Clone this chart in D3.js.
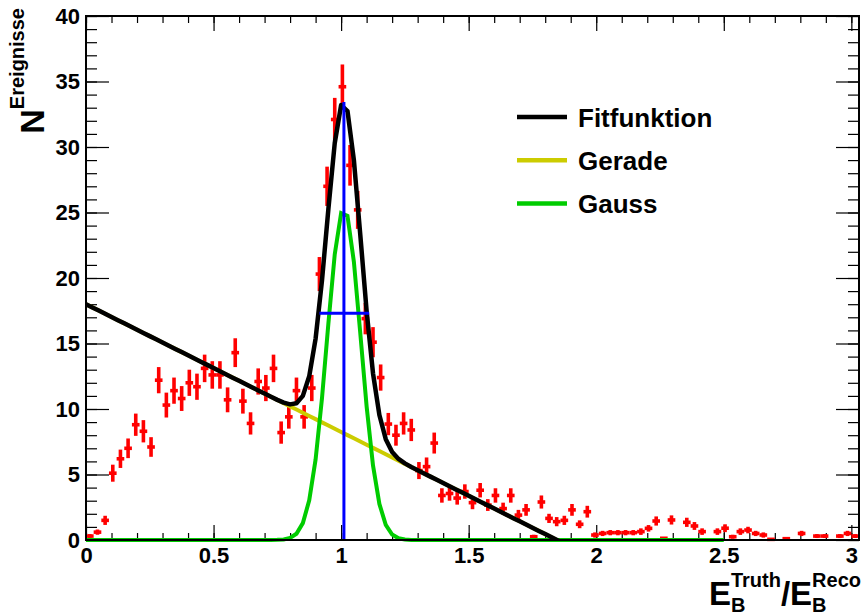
<!DOCTYPE html>
<html>
<head>
<meta charset="utf-8">
<script src="https://cdn.jsdelivr.net/npm/d3@7/dist/d3.min.js"></script>
<style>
  body { margin: 0; background: #fff; }
  svg { display: block; font-family: 'Liberation Sans', Arial, Helvetica, sans-serif; font-weight: bold; }
</style>
</head>
<body>
<div id="chart"></div>
<script>
// Histogramm: 101 Bins zu je 0.03, Start bei 0
const binWidth = 0.03
const counts = [
  0.3, 0.6, 1.5, 5.1, 6.2, 7.0, 8.8, 8.3, 7.1, 12.2,
  10.3, 11.4, 10.8, 12.0, 11.7, 13.1, 12.6, 12.6, 10.7, 14.3,
  10.6, 8.9, 12.1, 11.6, 13.1, 8.2, 9.4, 11.4, 9.4, 11.6,
  20.3, 27.0, 32.1, 34.6, 28.6, 25.2, 16.9, 15.1, 12.4, 8.85,
  8.0, 8.9, 8.4, 5.3, 5.6, 7.4, 3.4, 3.55, 3.2, 3.7,
  2.85, 3.8, 2.67, 3.4, 2.4, 3.4, 1.9, 2.3, 0.25, 2.9,
  1.65, 1.4, 1.5, 2.3, 1.2, 2.16, 0.38, 0.5, 0.56, 0.56,
  0.56, 0.56, 0.64, 0.89, 1.45, 0.13, 1.53, 0, 1.35, 1.07,
  0.64, 0, 0.64, 0.9, 0.25, 0.64, 0.76, 0.5, 0.38, 0.05,
  0, 0.1, 0, 0.5, 0, 0.3, 0.3, 0, 0.3, 0.5,
  0.3
]
const errors = [
  0.15, 0.2, 0.35, 0.65, 0.7, 0.75, 0.85, 0.85, 0.75, 1.0,
  0.95, 1.0, 0.95, 1.0, 1.0, 1.05, 1.05, 1.05, 0.95, 1.1,
  0.95, 0.85, 1.0, 1.0, 1.05, 0.85, 0.9, 1.0, 0.9, 1.0,
  1.3, 1.5, 1.65, 1.7, 1.55, 1.45, 1.2, 1.15, 1.0, 0.85,
  0.8, 0.85, 0.85, 0.65, 0.7, 0.8, 0.55, 0.55, 0.5, 0.55,
  0.5, 0.55, 0.45, 0.55, 0.45, 0.55, 0.4, 0.45, 0.15, 0.5,
  0.35, 0.35, 0.35, 0.45, 0.3, 0.45, 0.2, 0.2, 0.2, 0.2,
  0.2, 0.2, 0.25, 0.25, 0.35, 0.1, 0.35, 0, 0.35, 0.3,
  0.25, 0, 0.25, 0.3, 0.15, 0.25, 0.25, 0.2, 0.2, 0.05,
  0, 0.1, 0, 0.2, 0, 0.15, 0.15, 0, 0.15, 0.2,
  0.15
]

// Fitparameter
const geradeParams = [18.0, -9.75]           // Achsenabschnitt, Steigung
const gaussParams = [25.3, 1.011, 0.066]     // Amplitude, Mittelwert, Sigma
const fitRange = [0, 2.5]
const fitPoints = 100

// blaue Markierung: Maximum und Breite
const peakX = 1.011
const widthY = 17.3
const widthRange = [0.915, 1.11]

const xTicks = [0, 0.5, 1, 1.5, 2, 2.5, 3]
const xTickLabels = ['0', '0.5', '1', '1.5', '2', '2.5', '3']
const yTicks = [0, 5, 10, 15, 20, 25, 30, 35, 40]
const yTickLabels = ['0', '5', '10', '15', '20', '25', '30', '35', '40']

const legendLabels = ['Fitfunktion', 'Gerade', 'Gauss']
const legendColors = ['#000000', '#cccc00', '#00cc00']

const width = 864
const height = 616
const margin = ({top: 16, right: 5, bottom: 76, left: 86})

const x = d3.scaleLinear()
  .domain([0, 3.03])
  .range([margin.left, width - margin.right])
const y = d3.scaleLinear()
  .domain([0, 40])
  .range([height - margin.bottom, margin.top])

const gerade = v => geradeParams[0] + geradeParams[1] * v
const gauss = v => gaussParams[0] * Math.exp(-0.5 * ((v - gaussParams[1]) / gaussParams[2]) ** 2)
const fit = v => gerade(v) + gauss(v)

const svg = d3.select('#chart').append('svg')
  .attr('width', width)
  .attr('height', height)

svg.append('defs').append('clipPath')
  .attr('id', 'frame')
  .append('rect')
  .attr('x', margin.left)
  .attr('y', margin.top)
  .attr('width', width - margin.left - margin.right)
  .attr('height', height - margin.top - margin.bottom)

// Achsen, Ticks nach innen
const styleAxis = g => {
  g.select('.domain').remove()
  g.attr('font-family', null).attr('font-size', 22)
  g.selectAll('.tick line').attr('stroke-width', 1.2)
  g.selectAll('.tick text').attr('fill', '#000')
}

const xAxis = (axis, y0, size, values, labels) => g => g
  .attr('transform', `translate(0,${y0})`)
  .call(axis(x)
    .tickValues(values)
    .tickSize(size)
    .tickPadding(7)
    .tickFormat((d, i) => labels ? labels[i] : '')
  )
  .call(styleAxis)

const yAxis = (axis, x0, size, values, labels) => g => g
  .attr('transform', `translate(${x0},0)`)
  .call(axis(y)
    .tickValues(values)
    .tickSize(size)
    .tickPadding(6)
    .tickFormat((d, i) => labels ? labels[i] : '')
  )
  .call(styleAxis)

const xMinor = d3.range(0, 31).map(i => i / 10)
const yMinor = d3.range(0, 41)
const bottom = height - margin.bottom
const right = width - margin.right

svg.append('g').call(xAxis(d3.axisBottom, bottom, -7, xMinor))
svg.append('g').call(xAxis(d3.axisBottom, bottom, -15, xTicks, xTickLabels))
svg.append('g').call(xAxis(d3.axisTop, margin.top, -7, xMinor))
svg.append('g').call(xAxis(d3.axisTop, margin.top, -15, xTicks))
svg.append('g').call(yAxis(d3.axisLeft, margin.left, -11, yMinor))
svg.append('g').call(yAxis(d3.axisLeft, margin.left, -23, yTicks, yTickLabels))
svg.append('g').call(yAxis(d3.axisRight, right, -11, yMinor))
svg.append('g').call(yAxis(d3.axisRight, right, -23, yTicks))

// Datenpunkte mit Fehlerbalken
const bins = counts
  .map((c, i) => ({lo: i * binWidth, hi: (i + 1) * binWidth, c, e: errors[i]}))
  .filter(d => d.c > 0)

const points = svg.append('g')
  .attr('stroke', '#ff0000')
  .attr('stroke-width', 3.6)
  .selectAll('g')
  .data(bins)
  .join('g')

points.append('line')
  .attr('x1', d => x((d.lo + d.hi) / 2))
  .attr('x2', d => x((d.lo + d.hi) / 2))
  .attr('y1', d => y(d.c - d.e))
  .attr('y2', d => y(d.c + d.e))
points.append('line')
  .attr('x1', d => x(d.lo))
  .attr('x2', d => x(d.hi))
  .attr('y1', d => y(d.c))
  .attr('y2', d => y(d.c))

// Funktionen, wie ROOT mit npx Stuetzstellen
const samples = d3.range(fitPoints + 1)
  .map(i => fitRange[0] + (fitRange[1] - fitRange[0]) * i / fitPoints)
const line = fn => d3.line()
  .x(d => x(d))
  .y(d => y(fn(d)))(samples)

svg.append('path')
  .attr('clip-path', 'url(#frame)')
  .attr('fill', 'none')
  .attr('stroke', legendColors[1])
  .attr('stroke-width', 4)
  .attr('d', line(gerade))

svg.append('path')
  .attr('fill', 'none')
  .attr('stroke', legendColors[2])
  .attr('stroke-width', 4)
  .attr('d', line(gauss))

svg.append('path')
  .attr('clip-path', 'url(#frame)')
  .attr('fill', 'none')
  .attr('stroke', legendColors[0])
  .attr('stroke-width', 4.5)
  .attr('stroke-linejoin', 'round')
  .attr('d', line(fit))

svg.append('g')
  .attr('stroke', '#0000ff')
  .attr('stroke-width', 3)
  .call(g => g.append('line')
    .attr('x1', x(peakX)).attr('x2', x(peakX))
    .attr('y1', y(0)).attr('y2', y(fit(peakX))))
  .call(g => g.append('line')
    .attr('x1', x(widthRange[0])).attr('x2', x(widthRange[1]))
    .attr('y1', y(widthY)).attr('y2', y(widthY)))

// Rahmen
svg.append('rect')
  .attr('x', margin.left)
  .attr('y', margin.top)
  .attr('width', width - margin.left - margin.right)
  .attr('height', height - margin.top - margin.bottom)
  .attr('fill', 'none')
  .attr('stroke', '#000')
  .attr('stroke-width', 2)

// Legende
const legend = svg.append('g')
  .selectAll('g')
  .data(legendLabels)
  .join('g')
  .attr('transform', (d, i) => `translate(517,${117 + i * 43.3})`)

legend.append('line')
  .attr('x2', 50)
  .attr('stroke', (d, i) => legendColors[i])
  .attr('stroke-width', 4.5)
legend.append('text')
  .attr('x', 61)
  .attr('y', 9.6)
  .attr('font-size', 26)
  .text(d => d)

// Achsentitel mit Hoch- und Tiefstellung
const formelText = (g, parts, size, small, up, down) => {
  let pos = 0
  parts.forEach(p => {
    const base = g.append('text').attr('x', pos).attr('font-size', size).text(p.base)
    pos += base.node().getComputedTextLength()
    let w = 0
    if (p.sub) {
      const t = g.append('text').attr('x', pos).attr('y', down).attr('font-size', small).text(p.sub)
      w = Math.max(w, t.node().getComputedTextLength())
    }
    if (p.sup) {
      const t = g.append('text').attr('x', pos).attr('y', -up).attr('font-size', small).text(p.sup)
      w = Math.max(w, t.node().getComputedTextLength())
    }
    pos += w
  })
  return pos
}

const xTitle = svg.append('g')
const xTitleWidth = formelText(xTitle, [
  {base: 'E', sub: 'B', sup: 'Truth'},
  {base: '/'},
  {base: 'E', sub: 'B', sup: 'Reco'}
], 33, 20, 18, 7)
xTitle.attr('transform', `translate(${861 - xTitleWidth},605)`)

const yTitle = svg.append('g')
const yTitleWidth = formelText(yTitle, [
  {base: 'N', sup: 'Ereignisse'}
], 34, 20, 20, 0)
yTitle.attr('transform', `translate(44,${8 + yTitleWidth}) rotate(-90)`)
</script>
</body>
</html>
